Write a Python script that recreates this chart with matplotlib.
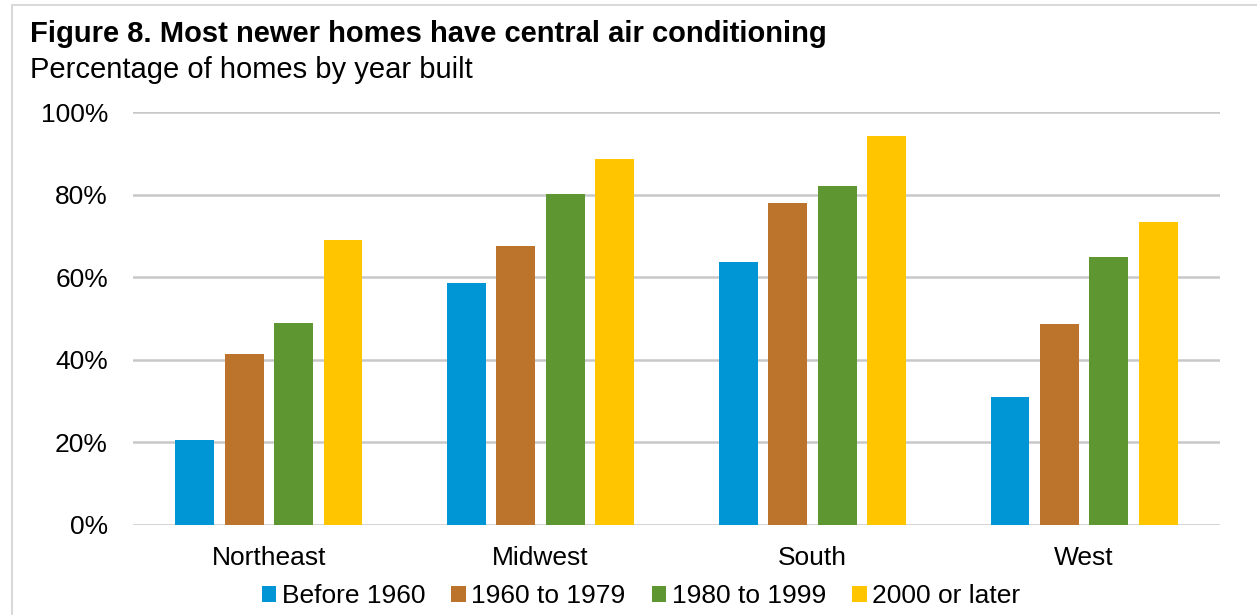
import numpy as np
import matplotlib
matplotlib.use("Agg")
import matplotlib.pyplot as plt
from matplotlib.patches import Rectangle
from matplotlib.ticker import FuncFormatter

plt.rcParams["font.family"] = ["Liberation Sans", "DejaVu Sans"]

# data
regions = ["Northeast", "Midwest", "South", "West"]
series_names = ["Before 1960", "1960 to 1979", "1980 to 1999", "2000 or later"]
before_1960 = [20.5, 58.6, 63.8, 30.9]
from_1960_to_1979 = [41.3, 67.6, 77.9, 48.6]
from_1980_to_1999 = [48.8, 80.2, 82.1, 65.0]
after_2000 = [68.9, 88.7, 94.1, 73.4]
y_ticks = [0, 20, 40, 60, 80, 100]

colors = ["#0096D6", "#BC732B", "#5E9732", "#FFC600"]

fig = plt.figure(figsize=(12.57, 6.15), dpi=100)

# light frame around the whole chart
fig.patches.append(Rectangle((12 / 1257, -0.02), 1.02, 1 - 5 / 615 + 0.02,
                             transform=fig.transFigure, fill=False,
                             edgecolor="#D9D9D9", linewidth=1.5))

ax = fig.add_axes([133 / 1257, 1 - 525 / 615, (1220 - 133) / 1257, (525 - 112) / 615])

x = np.arange(len(regions))
step = 0.182
width = 0.143
all_series = [before_1960, from_1960_to_1979, from_1980_to_1999, after_2000]
for i, values in enumerate(all_series):
    ax.bar(x + (i - 1.5) * step, values, width=width, color=colors[i],
           label=series_names[i], zorder=3)

ax.set_xlim(-0.5, 3.5)
ax.set_ylim(0, 100)
ax.set_yticks(y_ticks)
ax.yaxis.set_major_formatter(FuncFormatter(lambda v, p: f"{v:.0f}%"))
ax.set_xticks(x)
ax.set_xticklabels(regions)
ax.grid(axis="y", color="#C8C8C8", linewidth=1.8, zorder=0)
ax.set_axisbelow(True)
for s in ax.spines.values():
    s.set_visible(False)
ax.tick_params(axis="both", length=0, labelsize=19)
ax.tick_params(axis="y", pad=18)
ax.tick_params(axis="x", pad=15)

fig.text(30 / 1257, 1 - 34 / 615, "Figure 8. Most newer homes have central air conditioning",
         fontsize=21, fontweight="bold", va="center", ha="left")
fig.text(30 / 1257, 1 - 70 / 615, "Percentage of homes by year built",
         fontsize=21, va="center", ha="left")

fig.legend(loc="center", bbox_to_anchor=(641 / 1257, 1 - 596 / 615), ncol=4,
           frameon=False, fontsize=19, handlelength=0.55, handleheight=0.55,
           handletextpad=0.2, columnspacing=1.0)

fig.savefig("out.png", dpi=100)
